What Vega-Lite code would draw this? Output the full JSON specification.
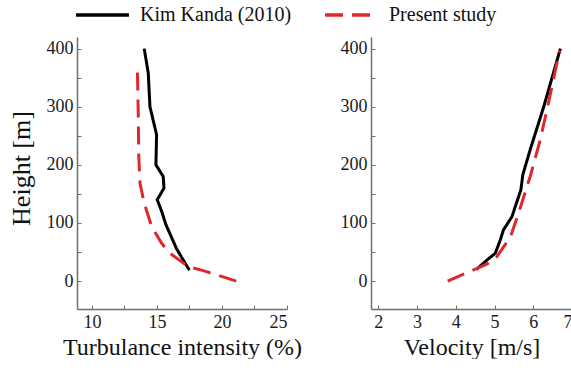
{
  "$schema": "https://vega.github.io/schema/vega-lite/v6.json",
  "autosize": {"type": "pad"},
  "padding": {"left": 8, "top": 5, "right": 0, "bottom": 0},
  "background": "white",
  "datasets": {
    "ti": [
      {"series": "Kim Kanda (2010)", "x": 14.02, "h": 400},
      {"series": "Kim Kanda (2010)", "x": 14.33, "h": 358},
      {"series": "Kim Kanda (2010)", "x": 14.46, "h": 300},
      {"series": "Kim Kanda (2010)", "x": 14.97, "h": 252},
      {"series": "Kim Kanda (2010)", "x": 14.92, "h": 200},
      {"series": "Kim Kanda (2010)", "x": 15.48, "h": 180},
      {"series": "Kim Kanda (2010)", "x": 15.54, "h": 160},
      {"series": "Kim Kanda (2010)", "x": 15.02, "h": 140},
      {"series": "Kim Kanda (2010)", "x": 15.36, "h": 120},
      {"series": "Kim Kanda (2010)", "x": 15.69, "h": 97},
      {"series": "Kim Kanda (2010)", "x": 16.5, "h": 56},
      {"series": "Kim Kanda (2010)", "x": 17.4, "h": 22},
      {"series": "Kim Kanda (2010)", "x": 17.5, "h": 19},
      {"series": "Present study", "x": 13.49, "h": 369},
      {"series": "Present study", "x": 13.56, "h": 289},
      {"series": "Present study", "x": 13.6, "h": 214},
      {"series": "Present study", "x": 13.7, "h": 168},
      {"series": "Present study", "x": 14.02, "h": 134},
      {"series": "Present study", "x": 14.59, "h": 94},
      {"series": "Present study", "x": 15.36, "h": 65},
      {"series": "Present study", "x": 16.0, "h": 48},
      {"series": "Present study", "x": 17.4, "h": 25},
      {"series": "Present study", "x": 18.56, "h": 18},
      {"series": "Present study", "x": 21.1, "h": 0}
    ],
    "vel": [
      {"series": "Kim Kanda (2010)", "x": 6.70, "h": 400},
      {"series": "Kim Kanda (2010)", "x": 6.27, "h": 300},
      {"series": "Kim Kanda (2010)", "x": 5.92, "h": 226},
      {"series": "Kim Kanda (2010)", "x": 5.73, "h": 183},
      {"series": "Kim Kanda (2010)", "x": 5.68, "h": 157},
      {"series": "Kim Kanda (2010)", "x": 5.45, "h": 111},
      {"series": "Kim Kanda (2010)", "x": 5.23, "h": 88},
      {"series": "Kim Kanda (2010)", "x": 5.15, "h": 71},
      {"series": "Kim Kanda (2010)", "x": 5.02, "h": 48},
      {"series": "Kim Kanda (2010)", "x": 4.8, "h": 36},
      {"series": "Kim Kanda (2010)", "x": 4.53, "h": 20},
      {"series": "Present study", "x": 6.68, "h": 397},
      {"series": "Present study", "x": 6.40, "h": 309},
      {"series": "Present study", "x": 6.18, "h": 243},
      {"series": "Present study", "x": 5.92, "h": 180},
      {"series": "Present study", "x": 5.62, "h": 117},
      {"series": "Present study", "x": 5.41, "h": 76},
      {"series": "Present study", "x": 5.06, "h": 42},
      {"series": "Present study", "x": 4.8, "h": 29},
      {"series": "Present study", "x": 4.2, "h": 12},
      {"series": "Present study", "x": 3.79, "h": 0}
    ]
  },
  "spacing": 84,
  "bounds": "flush",
  "resolve": {"scale": {"color": "shared", "strokeDash": "shared"}},
  "hconcat": [
    {
      "width": 210,
      "height": 272,
      "data": {"name": "ti"},
      "mark": {"type": "line", "strokeWidth": 3, "strokeCap": "butt"},
      "encoding": {
        "x": {"field": "x", "type": "quantitative",
              "scale": {"domain": [8.85, 25], "nice": false, "zero": false},
              "axis": {"title": "Turbulance intensity (%)", "values": [10, 12.5, 15, 17.5, 20, 22.5, 25],
                       "labelExpr": "datum.value % 5 === 0 ? datum.label : ''"}},
        "y": {"field": "h", "type": "quantitative",
              "scale": {"domain": [-48, 420], "nice": false, "zero": false},
              "axis": {"title": "Height [m]", "values": [0, 50, 100, 150, 200, 250, 300, 350, 400],
                       "labelExpr": "datum.value % 100 === 0 ? datum.label : ''",
                       "titleFontSize": 26,
                       "titleX": -43, "titleY": 131, "titleAngle": -90, "titleBaseline": "bottom", "titleAlign": "center"}},
        "color": {"field": "series", "type": "nominal",
                  "scale": {"domain": ["Kim Kanda (2010)", "Present study"], "range": ["#000000", "#e0282c"]},
                  "legend": {"orient": "none", "direction": "horizontal", "legendX": -3, "legendY": -32, "title": null}},
        "strokeDash": {"field": "series", "type": "nominal",
                       "scale": {"domain": ["Kim Kanda (2010)", "Present study"], "range": [[1, 0], [18, 9]]},
                       "legend": {"orient": "none", "direction": "horizontal", "legendX": -3, "legendY": -32, "title": null}},
        "order": {"field": "h", "type": "quantitative"}
      }
    },
    {
      "width": 201,
      "height": 272,
      "data": {"name": "vel"},
      "mark": {"type": "line", "strokeWidth": 3, "strokeCap": "butt"},
      "encoding": {
        "x": {"field": "x", "type": "quantitative",
              "scale": {"domain": [1.81, 7], "nice": false, "zero": false},
              "axis": {"title": "Velocity [m/s]", "values": [2, 3, 4, 5, 6, 7]}},
        "y": {"field": "h", "type": "quantitative",
              "scale": {"domain": [-48, 420], "nice": false, "zero": false},
              "axis": {"title": null, "values": [0, 50, 100, 150, 200, 250, 300, 350, 400],
                       "labelExpr": "datum.value % 100 === 0 ? datum.label : ''"}},
        "color": {"field": "series", "type": "nominal",
                  "scale": {"domain": ["Kim Kanda (2010)", "Present study"], "range": ["#000000", "#e0282c"]}},
        "strokeDash": {"field": "series", "type": "nominal",
                       "scale": {"domain": ["Kim Kanda (2010)", "Present study"], "range": [[1, 0], [18, 9]]}},
        "order": {"field": "h", "type": "quantitative"}
      }
    }
  ],
  "config": {
    "view": {"stroke": null},
    "font": "Liberation Serif",
    "axis": {
      "grid": false,
      "domainColor": "#707070",
      "domainWidth": 1.5,
      "tickColor": "#707070",
      "tickWidth": 1,
      "tickSize": -4,
      "labelPadding": 8,
      "labelFont": "Liberation Serif",
      "labelFontSize": 18,
      "labelColor": "#1a1a1a",
      "titleFont": "Liberation Serif",
      "titleFontSize": 24,
      "titleFontWeight": "normal",
      "titleColor": "#111111",
      "titlePadding": 4
    },
    "legend": {
      "symbolType": "stroke",
      "symbolSize": 2800,
      "symbolStrokeWidth": 3.5,
      "clipHeight": 20,
      "labelFont": "Liberation Serif",
      "labelFontSize": 20,
      "labelColor": "#111111",
      "labelOffset": 9,
      "columnPadding": 31,
      "padding": 0,
      "offset": 0
    }
  }
}
